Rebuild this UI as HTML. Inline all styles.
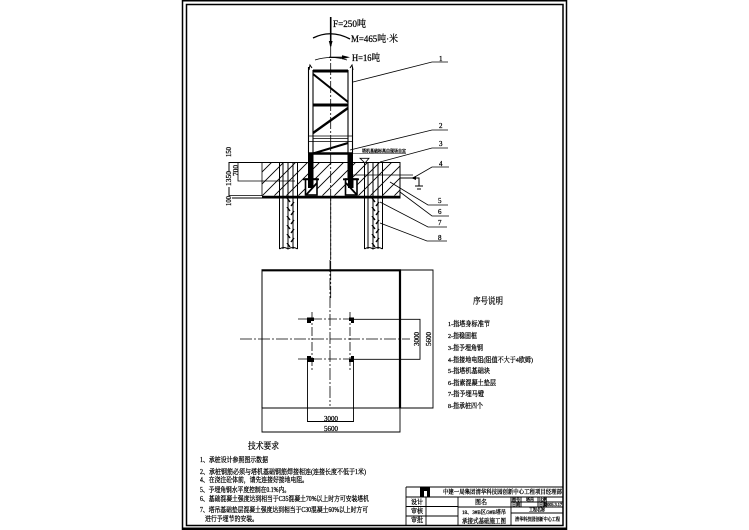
<!DOCTYPE html>
<html>
<head>
<meta charset="utf-8">
<style>
html,body{margin:0;padding:0;background:#fff;width:749px;height:530px;overflow:hidden}
svg{display:block;filter:blur(.35px)}
text{font-family:"Liberation Serif","Noto Serif CJK SC",serif;fill:#000;stroke:#000;stroke-width:.25}
</style>
</head>
<body>
<svg width="749" height="530" viewBox="0 0 749 530" xmlns="http://www.w3.org/2000/svg">
<defs>
<pattern id="h" width="12" height="12" patternUnits="userSpaceOnUse" patternTransform="translate(2 0)">
<path d="M-3 15L15 -3M-3 3L3 -3M9 15L15 9" stroke="#000" stroke-width=".9" fill="none"/>
</pattern>
<pattern id="t" width="13" height="9" patternUnits="userSpaceOnUse" patternTransform="translate(284 198)">
<path d="M3 0L6 4M10 4L7 8" stroke="#000" stroke-width="1.4" fill="none"/>
</pattern>
<pattern id="t2" width="13" height="9" patternUnits="userSpaceOnUse" patternTransform="translate(369 198)">
<path d="M3 0L6 4M10 4L7 8" stroke="#000" stroke-width="1.4" fill="none"/>
</pattern>
</defs>
<rect width="749" height="530" fill="#fff"/>

<!-- frame -->
<g fill="none" stroke="#000">
<path d="M182.5 530V.7H566.5V530" stroke-width="1.5"/>
<path d="M186.5 525.5V4.5H563V525.5Z" stroke-width="1.5"/>
<path d="M182 529H567" stroke-width="3"/>
</g>

<!-- axis -->
<path d="M330.7 45V268M330.7 268V300" stroke="#000" stroke-width=".8" stroke-dasharray="12 2 2 2" fill="none"/>

<!-- force -->
<path d="M330.7 17V46" stroke="#000" stroke-width="1.6"/>
<path d="M330.7 48L328.8 41H332.6Z" fill="#000"/>
<path d="M313 38Q331 29 350 39" stroke="#000" stroke-width="1.3" fill="none"/>
<path d="M329 57.3H345" stroke="#000" stroke-width="1.2"/>
<path d="M350 57.3L342 55.3V59.3Z" fill="#000"/>
<path d="M315 60Q331 55 347 60" stroke="#000" stroke-width=".8" fill="none"/>
<text x="333" y="27" font-size="9.5" textLength="33" lengthAdjust="spacingAndGlyphs">F=250吨</text>
<text x="351" y="42" font-size="9.5" textLength="47" lengthAdjust="spacingAndGlyphs">M=465吨·米</text>
<text x="352" y="61" font-size="9.5" textLength="28" lengthAdjust="spacingAndGlyphs">H=16吨</text>

<!-- tower -->
<g stroke="#000" fill="none">
<path d="M308.5 67V153M313 70V153M348 70V153M352.5 67V153" stroke-width="1.1"/>
<path d="M313 71H348M313 105H348" stroke-width="3"/>
<path d="M313 74L348 102" stroke-width="2"/>
<path d="M313 133L348 108" stroke-width="2.4"/>
<path d="M308 136H353M308 141.5H353M313 138.5H348" stroke-width=".8"/>
<path d="M313 153.5L348 143" stroke-width="2"/>
<path d="M308 153.5H353" stroke-width="2.6"/>
<path d="M309 70L310 65L312 68M350 68L352 65L353 70" stroke-width="1"/>
</g>
<path d="M308 153H313.5V178H308ZM347.5 153H353V178H347.5Z" fill="#000"/>

<!-- cap -->
<rect x="262" y="162.5" width="138" height="33" fill="url(#h)"/>
<g stroke="#000" fill="none">
<path d="M229 162.5H400V198H229M229 162V199" stroke-width="1"/>
<path d="M229 195.5H262M238 162.5V181H295" stroke-width=".8"/>
<path d="M262 196.8H400" stroke-width="2.2"/>
<path d="M262 162.5V196" stroke-width=".8"/>
<path d="M353 175H413" stroke-width=".8"/>
</g>
<g font-size="7">
<text transform="translate(231,157) rotate(-90)" textLength="10" lengthAdjust="spacingAndGlyphs">150</text>
<rect x="225" y="171" width="7" height="16" fill="#fff" stroke="none"/>
<text transform="translate(231,186) rotate(-90)" textLength="15" lengthAdjust="spacingAndGlyphs">1350</text>
<rect x="225" y="196" width="7" height="11" fill="#fff" stroke="none"/>
<text transform="translate(231,206) rotate(-90)" textLength="10" lengthAdjust="spacingAndGlyphs">100</text>
<text transform="translate(238,176) rotate(-90)" textLength="11" lengthAdjust="spacingAndGlyphs">700</text>
</g>

<!-- piles -->
<rect x="284" y="198" width="13" height="50" fill="url(#t)"/>
<rect x="369" y="198" width="13" height="50" fill="url(#t2)"/>
<g stroke="#000" fill="none" stroke-width="1">
<path d="M279.5 162.5V249M283 162.5V249M288 162.5V249M293 162.5V249M297.5 162.5V249"/>
<path d="M364.5 162.5V249M368 162.5V249M373 162.5V249M378 162.5V249M382.5 162.5V249"/>
<path d="M279.5 249Q284 246 288 249Q293 246 297.5 249M364.5 249Q369 246 373 249Q378 246 382.5 249"/>
</g>
<path d="M330.7 198V260" stroke="#000" stroke-width=".8" stroke-dasharray="12 2 2 2"/>

<!-- feet -->
<g stroke="#000" fill="#fff">
<rect x="305.5" y="179" width="11.5" height="16" stroke-width="1.6"/>
<rect x="345.5" y="179" width="11.5" height="16" stroke-width="1.6"/>
</g>
<g stroke="#000" fill="none">
<path d="M303 179.3H319M343 179.3H359" stroke-width="1.8"/>
<path d="M306 195L317 183M346 183L357 195" stroke-width="1.8"/>
</g>
<path d="M308 178H313.5V188H308ZM348 178H353.5V188H348Z" fill="#000"/>

<!-- elevation note -->
<text x="362" y="152.5" font-size="4.6" textLength="44" lengthAdjust="spacingAndGlyphs">塔机基础标高由现场自定</text>
<path d="M352 153.5H406" stroke="#000" stroke-width=".6"/>
<path d="M360 158.3H369L365 163Z" fill="#fff" stroke="#000" stroke-width=".8"/>

<!-- leaders -->
<g stroke="#000" stroke-width=".8" fill="none">
<path d="M353 82L432 62H448"/>
<path d="M350 150L432 130H448"/>
<path d="M380 162L432 148H448"/>
<path d="M413 178L432 167H449"/>
<path d="M390 182L428 205H448"/>
<path d="M400 192L432 216H449"/>
<path d="M380 202L428 227H447"/>
<path d="M380 223L427 241H447"/>
<path d="M400 178H419V186M415 186H423" stroke-width="1"/>
<path d="M417 189H421" stroke-width="1"/>
</g>
<path d="M411 178L416 176V180Z" fill="#000"/>
<g font-size="7">
<text x="439" y="61">1</text>
<text x="439" y="128">2</text>
<text x="439" y="146">3</text>
<text x="439" y="166">4</text>
<text x="438" y="203">5</text>
<text x="438" y="214">6</text>
<text x="438" y="225">7</text>
<text x="438" y="240">8</text>
</g>

<!-- plan -->
<g stroke="#000" fill="none">
<path d="M262 408V270M262 408H400" stroke-width="1"/>
<path d="M261.5 270.3H401" stroke-width="2.2"/>
<path d="M400 269.5V408" stroke-width="2.2"/>
<path d="M240 339H410" stroke-width=".8" stroke-dasharray="12 2 2 2"/>
<path d="M330 260V406" stroke-width=".8" stroke-dasharray="12 2 2 2"/>
<path d="M298 319H352M298 359H352M312 312V372M350 312V372" stroke-width=".8" stroke-dasharray="9 2 2 2"/>
<path d="M352 319.3H420V359.3H352M400 270H433V408H400" stroke-width=".9"/>
<path d="M307.5 360V421.5H353.5V360M262 408V432H400V408" stroke-width=".9"/>
</g>
<path d="M307 317.5H314V321H311V323H307ZM349 317.5H354V323H351V321H349ZM307 356H311V358H314V362H307ZM351 356H354V362H349V359H351Z" fill="#000"/>
<g font-size="7">
<text x="324" y="421" textLength="14" lengthAdjust="spacingAndGlyphs">3000</text>
<text x="324" y="431" textLength="14" lengthAdjust="spacingAndGlyphs">5600</text>
<text transform="translate(419,346) rotate(-90)" textLength="14" lengthAdjust="spacingAndGlyphs">3000</text>
<text transform="translate(431,346) rotate(-90)" textLength="14" lengthAdjust="spacingAndGlyphs">5600</text>
</g>

<!-- legend -->
<text x="473" y="304" font-size="9" textLength="30" lengthAdjust="spacingAndGlyphs">序号说明</text>
<g font-size="6.6">
<text x="448" y="326" textLength="42" lengthAdjust="spacingAndGlyphs">1-指塔身标准节</text>
<text x="448" y="338" textLength="29" lengthAdjust="spacingAndGlyphs">2-指稳固框</text>
<text x="448" y="350" textLength="35" lengthAdjust="spacingAndGlyphs">3-指予埋角钢</text>
<text x="448" y="362" textLength="85" lengthAdjust="spacingAndGlyphs">4-指接地电阻(阻值不大于4欧姆)</text>
<text x="448" y="373" textLength="42" lengthAdjust="spacingAndGlyphs">5-指塔机基础块</text>
<text x="448" y="385" textLength="48" lengthAdjust="spacingAndGlyphs">6-指素混凝土垫层</text>
<text x="448" y="396" textLength="36" lengthAdjust="spacingAndGlyphs">7-指予埋马镫</text>
<text x="448" y="408" textLength="35" lengthAdjust="spacingAndGlyphs">8-指承桩四个</text>
</g>

<!-- tech -->
<text x="248" y="449" font-size="9" textLength="31" lengthAdjust="spacingAndGlyphs">技术要求</text>
<g font-size="6.8">
<text x="200" y="462" textLength="68" lengthAdjust="spacingAndGlyphs">1、承桩设计参照图示数据</text>
<text x="200" y="474" textLength="166" lengthAdjust="spacingAndGlyphs">2、承桩钢筋必须与塔机基础钢筋焊接相连(连接长度不低于1米)</text>
<text x="200" y="482" textLength="108" lengthAdjust="spacingAndGlyphs">4、在浇注砼体前，请先连接好接地电阻。</text>
<text x="200" y="492" textLength="90" lengthAdjust="spacingAndGlyphs">5、予埋角钢水平度控制在0.1%内。</text>
<text x="200" y="501" textLength="169" lengthAdjust="spacingAndGlyphs">6、基础混凝土强度达到相当于C35混凝土70%以上时方可安装塔机</text>
<text x="200" y="512" textLength="168" lengthAdjust="spacingAndGlyphs">7、塔吊基础垫层混凝土强度达到相当于C30混凝土60%以上时方可</text>
<text x="205" y="521" textLength="53" lengthAdjust="spacingAndGlyphs">进行予埋节的安装。</text>
</g>

<!-- title block -->
<g stroke="#000" fill="none" stroke-width=".9">
<path d="M406 487H563M406 497H563M406 506.5H458M406 516H458M406 487V525.5M426 497V525.5M458 497V525.5M511 497V525.5"/>
<path d="M511 502H563M511 507H563M458 507H511M511 513H563M521 497V507M538 497V507M544 497V507"/>
</g>
<path d="M420 487H430V497H427V491H424V497H420Z" fill="#000"/>
<text x="443" y="494" font-size="6" textLength="119" lengthAdjust="spacingAndGlyphs">中建一局集团清华科技园创新中心工程项目经理部</text>
<g font-size="6.5">
<text x="411" y="504" textLength="12" lengthAdjust="spacingAndGlyphs">设计</text>
<text x="411" y="513" textLength="12" lengthAdjust="spacingAndGlyphs">审核</text>
<text x="411" y="522" textLength="12" lengthAdjust="spacingAndGlyphs">审批</text>
<text x="475" y="504" textLength="12" lengthAdjust="spacingAndGlyphs">图名</text>
<text x="462" y="514" font-size="5.5" textLength="44" lengthAdjust="spacingAndGlyphs">18、3#B区/3#B塔吊</text>
<text x="462" y="523" textLength="44" lengthAdjust="spacingAndGlyphs">承接式基础施工图</text>
</g>
<g font-size="4">
<text x="512" y="501">图号</text>
<text x="512" y="506">日期</text>
<text x="526" y="501">塔吊</text>
<text x="539" y="501">比例</text>
<text x="539" y="506">日期</text>
<text x="545" y="506" textLength="17" lengthAdjust="spacingAndGlyphs">2005.3.17</text>
<text x="529" y="511.5" font-size="5" textLength="16" lengthAdjust="spacingAndGlyphs">工程名称</text>
<text x="515" y="521" font-size="5" textLength="45" lengthAdjust="spacingAndGlyphs">清华科技园创新中心工程</text>
</g>
</svg>
</body>
</html>
